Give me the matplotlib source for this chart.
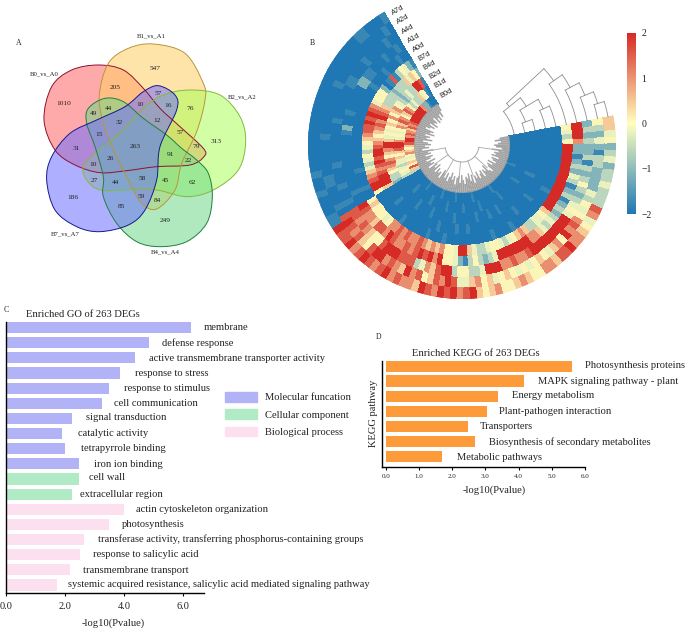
import numpy as np
import matplotlib
matplotlib.use("Agg")
import matplotlib.pyplot as plt
from matplotlib.colors import LinearSegmentedColormap
from matplotlib.patches import Patch, PathPatch
from matplotlib.path import Path

plt.rcParams['font.family'] = ['Liberation Serif', 'DejaVu Serif']
W, H = 685, 628
fig = plt.figure(figsize=(W / 100, H / 100), dpi=100)

def axes_px(l, t, r, b, **kw):
    return fig.add_axes([l / W, 1 - b / H, (r - l) / W, (b - t) / H], **kw)

# ---------------- Panel A data
venn_names = ["B0_vs_A0", "B1_vs_A1", "B2_vs_A2", "B4_vs_A4", "B7_vs_A7"]
venn_counts = [1010, 205, 547, 57, 16, 76, 313, 49, 44, 10, 12, 32, 15, 57, 79, 263,
               91, 22, 31, 26, 10, 27, 44, 58, 45, 62, 186, 85, 59, 84, 249]
venn_count_pos = [(190, 250), (344, 202), (466, 147), (475, 220), (505, 257), (570, 266),
                  (647, 364), (281, 280), (325, 264), (420, 253), (472, 302), (358, 309),
                  (296, 344), (541, 338), (589, 380), (407, 380), (512, 404), (565, 421),
                  (230, 385), (332, 416), (278, 432), (282, 480), (345, 486), (426, 475),
                  (497, 482), (576, 488), (220, 533), (365, 560), (425, 530), (471, 542),
                  (497, 603)]
venn_name_pos = [(133, 162), (455, 48), (726, 232), (497, 696), (196, 641)]
venn_fill = ["#ff6464", "#ffcf64", "#adff5b", "#6ed787", "#6e6eff"]
venn_edge = ["#8f1030", "#b8963a", "#86b840", "#1f8040", "#18188c"]
venn_outline = [
    [(295, 135), (370, 150), (430, 205), (480, 265), (540, 320), (610, 385), (612, 410),
     (570, 435), (470, 440), (380, 452), (300, 458), (225, 435), (165, 390), (132, 300),
     (155, 200), (215, 150)],
    [(460, 72), (555, 100), (610, 190), (615, 240), (590, 335), (545, 430), (525, 510),
     (470, 567), (425, 550), (390, 490), (345, 400), (310, 310), (298, 225), (325, 130),
     (385, 85)],
    [(570, 210), (660, 225), (720, 290), (737, 365), (715, 450), (640, 510), (560, 530),
     (470, 510), (380, 510), (300, 510), (260, 480), (250, 440), (290, 395), (360, 340),
     (430, 265), (490, 225)],
    [(480, 680), (560, 665), (620, 610), (637, 530), (625, 460), (590, 420), (545, 385),
     (500, 345), (430, 295), (370, 245), (315, 235), (265, 265), (260, 310), (285, 380),
     (310, 470), (310, 530), (350, 610), (410, 665)],
    [(300, 635), (385, 615), (435, 570), (470, 480), (480, 380), (530, 270), (525, 225),
     (475, 197), (430, 215), (375, 260), (290, 300), (210, 340), (155, 410), (140, 480),
     (165, 570), (230, 620)],
]

# ---------------- Panel B data (one character per sector, index into heat_levels)
heat_levels = [-2.0, -1.78, -1.1, -0.6, -0.2, 0.1, 0.5, 1.05, 1.55, 2.0]
ring_names = ["B0d", "B1d", "B2d", "B4d", "B7d", "A0d", "A1d", "A4d", "A2d", "A7d"]
ring_B0d = "0001227999 9999878678 7998656754 5658630000 0000100000 0100000100 0000100000 0001000000 0000000100 0000000000"
ring_B1d = "0154633435 7865786754 5479986564 4345430000 0100000010 0000100000 1000001000 0000100000 0010000000 0000000000"
ring_B2d = "1899334323 4576575654 5469976578 7653320000 0000010000 1000000100 0000100010 0100000000 0000001000 0000000000"
ring_B4d = "2564633323 3336789787 6567899898 7899960000 1000000000 0001000010 0100000000 0000010000 1000000000 0000000000"
ring_B7d = "1245318102 5554789898 8765435434 6789950000 0000100000 0100010000 0000000100 0010000000 0000100000 0000000000"
ring_A0d = "0010001000 1000000000 0000000001 0001005655 5457787877 8767675549 9643345543 4567633445 6999999999 9999995345"
ring_A1d = "0100100011 2200000100 2100000000 0001009877 6887987787 8989795542 1353234999 9999776434 3232132134 2321227999"
ring_A4d = "0010000100 0110000001 0000000100 0100108878 7655899988 8347689935 5334999778 7789999999 9945432353 2313223232"
ring_A2d = "0100000000 0001000000 0010000001 1000108987 8658997876 9785687984 4675645654 5456546759 7875453422 2233124235"
ring_A7d = "1000110000 0000000000 0000000010 0100011988 9789878978 7769879897 8965675567 6557768897 7654783334 3324325466"
heat_rings = [ring_B0d, ring_B1d, ring_B2d, ring_B4d, ring_B7d,
              ring_A0d, ring_A1d, ring_A4d, ring_A2d, ring_A7d]
# inner limit (radius) of the dense row-tree tips, sector by sector
tip_depth = [40, 34, 38, 32, 36, 31, 39, 33, 35, 30, 38, 32, 36, 40, 31, 34, 29, 38, 33, 36,
             30, 39, 34, 31, 37, 33, 40, 29, 35, 32, 38, 31, 34, 39, 30, 36, 33, 40, 31, 35,
             29, 38, 32, 36, 34, 40, 30, 33, 37, 31, 39, 34, 29, 36, 32, 40, 33, 31, 38, 30,
             35, 39, 32, 34, 29, 37, 31, 40, 33, 36, 30, 38, 34, 31, 39, 32, 35, 29, 37, 40,
             33, 31, 36, 30, 38, 34, 32, 39, 31, 35, 33, 37, 30, 40, 34, 32, 36, 39, 33, 38]
# column tree: (child a, child b, merge angle in degrees); int = ring, str = earlier node
col_tree = {"c1": (1, 2, 20), "c2": (3, 4, 24), "c3": ("c1", "c2", 31), "c4": (0, "c3", 39),
            "c5": (8, 9, 17), "c6": (7, "c5", 22), "c7": (6, "c6", 28), "c8": (5, "c7", 35),
            "root": ("c4", "c8", 43)}

# ---------------- Panel C data
go_terms = ["membrane", "defense response", "active transmembrane transporter activity",
            "response to stress", "response to stimulus", "cell communication",
            "signal transduction", "catalytic activity", "tetrapyrrole binding",
            "iron ion binding", "cell wall", "extracellular region",
            "actin cytoskeleton organization", "photosynthesis",
            "transferase activity, transferring phosphorus-containing groups",
            "response to salicylic acid", "transmembrane transport",
            "systemic acquired resistance, salicylic acid mediated signaling pathway"]
go_values = [6.27, 4.85, 4.37, 3.86, 3.49, 3.24, 2.25, 1.91, 2.0, 2.49, 2.49, 2.25,
             4.0, 3.49, 2.65, 2.52, 2.18, 1.73]
go_class = [0] * 10 + [1] * 2 + [2] * 6
go_class_names = ["Molecular funcation", "Cellular component", "Biological process"]
go_colors = ["#b2b2f6", "#b0ebc5", "#fde0ef"]
go_label_x = [6.69, 5.27, 4.84, 4.37, 4.01, 3.65, 2.71, 2.45, 2.53, 2.98, 2.81, 2.50,
              4.39, 3.94, 3.13, 2.96, 2.62, 2.09]
go_label_dy = [0, 0.04, 0.04, 0.04, 0.04, 0.04, -0.04, -0.02, -0.02, 0.02, -0.11, 0,
               0.02, -0.02, 0, 0.02, 0.02, -0.04]

# ---------------- Panel D data
kegg_terms = ["Photosynthesis proteins", "MAPK signaling pathway - plant", "Energy metabolism",
              "Plant-pathogen interaction", "Transporters",
              "Biosynthesis of secondary metabolites", "Metabolic pathways"]
kegg_values = [5.6, 4.16, 3.38, 3.06, 2.47, 2.69, 1.69]
kegg_label_x = [6.0, 4.57, 3.81, 3.42, 2.84, 3.1, 2.15]
kegg_label_dy = [0, 0.02, -0.02, 0, -0.02, 0.04, 0.04]

# ================= Panel A
axA = axes_px(0, 20, 300, 300)
axA.set_xlim(0, 900)
axA.set_ylim(840, 0)
axA.axis("off")

def smooth_closed(points):
    p = np.array(points, float)
    n = len(p)
    verts = [p[0]]
    codes = [Path.MOVETO]
    for i in range(n):
        p0, p1, p2, p3 = p[(i - 1) % n], p[i], p[(i + 1) % n], p[(i + 2) % n]
        verts += [p1 + (p2 - p0) / 6, p2 - (p3 - p1) / 6, p2]
        codes += [Path.CURVE4] * 3
    return Path(verts, codes)

for pts, fc, ec in zip(venn_outline, venn_fill, venn_edge):
    path = smooth_closed(pts)
    axA.add_patch(PathPatch(path, facecolor=fc, edgecolor="none", alpha=0.55, zorder=2))
    axA.add_patch(PathPatch(path, facecolor="none", edgecolor=ec, lw=0.7, zorder=3))
for c, (x, y) in zip(venn_counts, venn_count_pos):
    axA.text(x, y, str(c), fontsize=5.3, ha="center", va="center", color="#222222", zorder=4)
for name, (x, y) in zip(venn_names, venn_name_pos):
    axA.text(x, y, name, fontsize=4.9, ha="center", va="center", color="#222222", zorder=4)
axA.text(57, 70, "A", fontsize=5.6, ha="center", va="center", color="#222222")

# ================= Panel B
cx, cy, R = 462, 145, 154
axB = axes_px(cx - R, cy - R, cx + R, cy + R, projection="polar")
axB.axis("off")
cmap = LinearSegmentedColormap.from_list("heat", ["#1f78b4", "#ffffbf", "#d62a26"])
matrix = np.array([[heat_levels[int(ch)] for ch in ring.replace(" ", "")] for ring in heat_rings])
start, end = 120.5, 371.0
theta_edges = np.radians(np.linspace(start, end, matrix.shape[1] + 1))
r_inner = 48.0
r_edges = np.linspace(r_inner, R, matrix.shape[0] + 1)
mesh = axB.pcolormesh(theta_edges, r_edges, matrix, cmap=cmap, vmin=-2, vmax=2,
                      shading="flat", edgecolors="face", linewidth=0.15)
theta_mid = 0.5 * (theta_edges[1:] + theta_edges[:-1])
step = theta_edges[1] - theta_edges[0]
depths = np.array(tip_depth, float)
axB.bar(theta_mid, r_inner - depths, width=step * 1.02, bottom=depths, color="#a2a2a2",
        linewidth=0, zorder=3)
tree_grey = "#a8a8a8"
arc = np.radians(np.linspace(190, 352, 60))
axB.plot(arc, np.full(60, 17.0), color=tree_grey, lw=0.7, zorder=3)
for a, lo, hi in [(190, 17, 36), (215, 17, 33), (240, 17, 33), (265, 17, 33), (290, 17, 33),
                  (318, 17, 34), (352, 17, 36)]:
    axB.plot([np.radians(a)] * 2, [lo, hi], color=tree_grey, lw=0.6, zorder=3)
axB.set_ylim(0, R)
axB.set_xlim(0, 2 * np.pi)

# column dendrogram
ring_centres = 0.5 * (r_edges[:-1] + r_edges[1:])
base_angle = 11.0
node_pos = {}

def node(key):
    if isinstance(key, int):
        return ring_centres[key], base_angle
    return node_pos[key]

for key, (a, b, ang) in col_tree.items():
    ra, ta = node(a)
    rb, tb = node(b)
    for rr, tt in [(ra, ta), (rb, tb)]:
        th = np.radians(np.linspace(tt, ang, 12))
        axB.plot(th, np.full(12, rr), color="#8e8e8e", lw=0.6, zorder=3)
    axB.plot(np.radians([ang, ang]), [ra, rb], color="#8e8e8e", lw=0.6, zorder=3)
    node_pos[key] = (ra + 0.35 * (rb - ra), ang)

for name, rr in zip(ring_names, ring_centres):
    offset = np.degrees(np.arcsin(6.0 / rr))
    axB.text(np.radians(start - offset), rr, name, rotation=30, rotation_mode="anchor",
             ha="left", va="center", fontsize=5.4, family="Liberation Sans",
             color="#222222", clip_on=False)

cax = axes_px(627, 33, 636, 214)
cb = fig.colorbar(mesh, cax=cax, ticks=[-2, -1, 0, 1, 2])
cb.outline.set_visible(False)
cb.ax.tick_params(length=0, labelsize=7, pad=4, colors="#222222")
cb.ax.set_yticklabels(["\u22122", "\u22121", "0", "1", "2"])

# ================= Overlay letters
ov = axes_px(0, 0, W, H)
ov.set_xlim(0, W)
ov.set_ylim(H, 0)
ov.axis("off")
ov.patch.set_alpha(0)
ov.text(312.7, 43, "B", fontsize=5.6, ha="center", va="center", color="#222222")
ov.text(6, 310, "C", fontsize=5.6, ha="center", va="center", color="#222222")
ov.text(379, 337, "D", fontsize=5.6, ha="center", va="center", color="#222222")

# ================= Panel C
axC = axes_px(5.7, 322, 204, 593)
axC.set_facecolor("none")
ypos = np.arange(len(go_values))
axC.barh(ypos, go_values, height=0.73, color=[go_colors[c] for c in go_class])
axC.set_xlim(0, 6.7)
axC.set_ylim(17.53, -0.37)
axC.set_yticks([])
axC.set_xticks([0, 2, 4, 6])
axC.set_xticklabels(["0.0", "2.0", "4.0", "6.0"], fontsize=7.4, color="#222222")
axC.tick_params(axis="x", length=2.5, width=0.8, pad=4)
for s in ("top", "right"):
    axC.spines[s].set_visible(False)
for s in ("left", "bottom"):
    axC.spines[s].set_linewidth(1.0)
for term, x, y, dy in zip(go_terms, go_label_x, ypos, go_label_dy):
    axC.text(x, y + dy, term, fontsize=7.6, ha="left", va="center", color="#222222", clip_on=False)
axC.set_xlabel("-log10(Pvalue)", fontsize=7.6, color="#222222", labelpad=5, x=0.541)
axC.set_title("Enriched GO of 263 DEGs", fontsize=7.6, color="#222222", x=0.39, y=1.0, pad=3.5)
handles = [Patch(color=c) for c in go_colors]
fig.legend(handles, go_class_names, loc="upper left", bbox_to_anchor=(225 / W, 1 - 392 / H),
           frameon=False, fontsize=7.6, handlelength=3.0, handleheight=1.03, labelspacing=0.66,
           handletextpad=0.78, borderpad=0, borderaxespad=0, labelcolor="#222222")

# ================= Panel D
axD = axes_px(382.3, 360.7, 585, 466.7)
axD.set_facecolor("none")
ypos = np.arange(len(kegg_values))
axD.barh(ypos, kegg_values, height=0.75, color="#fd9a3a")
axD.set_xlim(-0.11, 6.0)
axD.set_ylim(6.67, -0.35)
axD.set_yticks([])
axD.set_xticks(range(7))
axD.set_xticklabels([f"{v:.1f}" for v in range(7)], fontsize=5, color="#222222")
axD.tick_params(axis="x", length=2.2, width=0.8, pad=3)
for s in ("top", "right"):
    axD.spines[s].set_visible(False)
for s in ("left", "bottom"):
    axD.spines[s].set_linewidth(1.0)
for term, x, y, dy in zip(kegg_terms, kegg_label_x, ypos, kegg_label_dy):
    axD.text(x, y + dy, term, fontsize=7.6, ha="left", va="center", color="#222222", clip_on=False)
axD.set_xlabel("-log10(Pvalue)", fontsize=7.6, color="#222222", labelpad=5, x=0.551)
axD.set_ylabel("KEGG pathway", fontsize=7.6, color="#222222", labelpad=3)
axD.set_title("Enriched KEGG of 263 DEGs", fontsize=7.6, color="#222222", x=0.46, pad=3.5)

fig.savefig("out.png", dpi=100)
